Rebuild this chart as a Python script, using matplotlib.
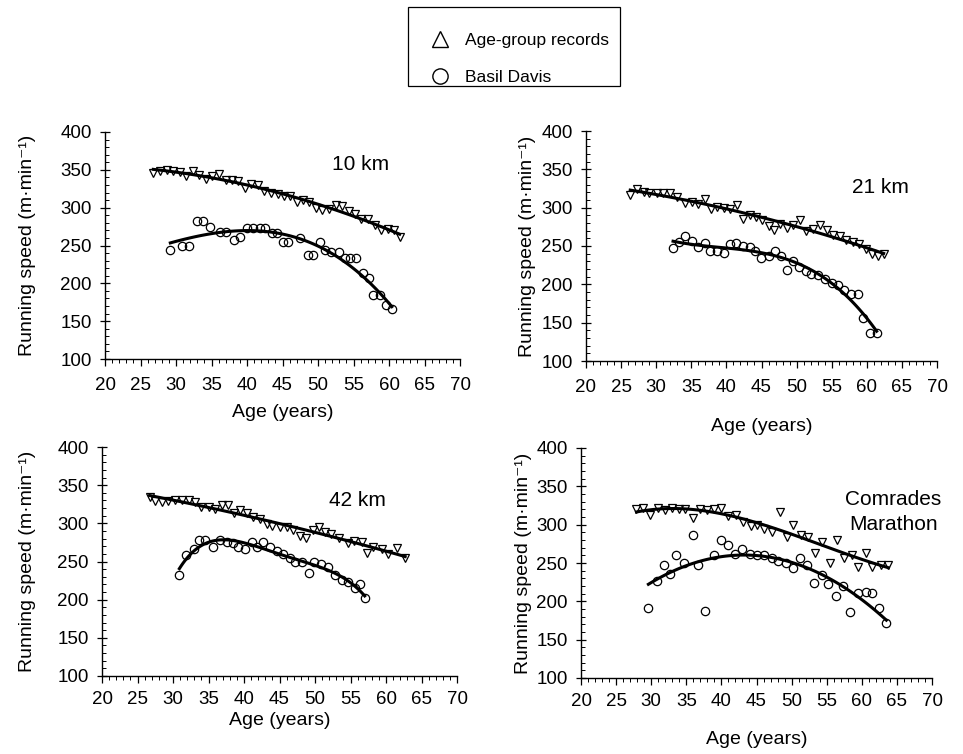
import numpy as np
import matplotlib
matplotlib.use("Agg")
import matplotlib.pyplot as plt
from matplotlib.lines import Line2D
from matplotlib.patches import Rectangle
from matplotlib.ticker import MultipleLocator

plt.rcParams['font.family'] = ['Liberation Sans', 'DejaVu Sans']

# ---------------- data ----------------
# 10 km
rec10_age = [26.8, 27.7, 28.7, 29.6, 30.5, 31.4, 32.4, 33.3, 34.2, 35.1, 36.0, 37.0, 37.9, 38.8,
             39.7, 40.6, 41.5, 42.4, 43.4, 44.3, 45.2, 46.1, 47.0, 47.9, 48.8, 49.7, 50.6, 51.6,
             52.5, 53.4, 54.3, 55.2, 56.1, 57.0, 58.0, 58.9, 59.8, 60.7, 61.5]
rec10_spd = [346, 349, 350, 348, 347, 342, 348, 343, 338, 342, 344, 337, 336, 335,
             326, 331, 330, 322, 319, 318, 316, 315, 307, 310, 308, 300, 297, 298,
             303, 302, 295, 291, 285, 285, 277, 271, 272, 270, 261]
bd10_age = [29.2, 30.8, 31.9, 32.9, 33.8, 34.8, 36.2, 37.1, 38.1, 39.0, 40.0, 40.9, 41.8, 42.5,
            43.5, 44.2, 45.1, 45.8, 47.5, 48.6, 49.3, 50.3, 51.0, 51.9, 52.9, 53.8, 54.5, 55.4,
            56.4, 57.2, 57.8, 58.7, 59.6, 60.4]
bd10_spd = [244, 250, 250, 282, 282, 274, 268, 268, 257, 261, 273, 273, 273, 273,
            267, 267, 255, 255, 260, 238, 238, 255, 244, 242, 242, 233, 233, 233,
            214, 207, 184, 184, 171, 166]

# 21 km
rec21_age = [26.3, 27.2, 28.2, 29.0, 30.1, 31.0, 31.9, 33.0, 34.1, 35.1, 36.0, 36.9, 37.8, 38.6,
             39.6, 40.5, 41.5, 42.3, 43.3, 44.2, 45.0, 46.0, 46.8, 47.7, 48.7, 49.5, 50.5, 51.4,
             52.4, 53.3, 54.3, 55.2, 56.2, 57.1, 58.1, 58.9, 59.9, 60.7, 61.6, 62.4]
rec21_spd = [317, 324, 320, 319, 319, 319, 319, 314, 306, 308, 305, 311, 298, 301,
             300, 298, 303, 285, 291, 288, 284, 276, 271, 279, 274, 278, 284, 269,
             272, 278, 271, 265, 263, 258, 255, 252, 246, 239, 237, 239]
bd21_age = [32.4, 33.2, 34.1, 35.1, 35.9, 36.9, 37.7, 38.6, 39.6, 40.5, 41.4, 42.3, 43.3, 44.1,
            44.9, 46.0, 46.9, 47.8, 48.6, 49.5, 50.4, 51.3, 52.1, 53.1, 54.0, 55.0, 55.9, 56.8,
            57.8, 58.8, 59.5, 60.4, 61.4]
bd21_spd = [247, 255, 263, 257, 249, 254, 244, 243, 241, 252, 254, 250, 249, 244,
            234, 237, 244, 237, 219, 230, 223, 218, 214, 212, 207, 202, 199, 193,
            188, 188, 156, 136, 136]

# 42 km
rec42_age = [26.7, 27.5, 28.4, 29.3, 30.3, 31.2, 32.2, 33.1, 34.0, 35.0, 35.9, 36.9, 37.7, 38.6,
             39.4, 40.4, 41.3, 42.3, 43.2, 44.0, 45.0, 46.0, 46.9, 47.9, 48.8, 49.7, 50.6, 51.4,
             52.3, 53.4, 54.7, 55.5, 56.6, 57.3, 58.2, 59.4, 60.3, 61.5, 62.7]
rec42_spd = [335, 329, 328, 329, 331, 331, 331, 328, 322, 322, 319, 324, 324, 313,
             318, 314, 308, 306, 299, 296, 295, 295, 291, 283, 281, 291, 295, 288,
             286, 281, 274, 277, 276, 261, 269, 267, 260, 268, 255]
bd42_age = [30.9, 31.9, 32.9, 33.6, 34.5, 35.6, 36.6, 37.6, 38.4, 39.2, 40.1, 41.1, 41.8, 42.7,
            43.7, 44.6, 45.5, 46.5, 47.2, 48.1, 49.1, 49.8, 50.9, 51.9, 52.8, 53.8, 54.7, 55.6,
            56.3, 57.0]
bd42_spd = [232, 258, 267, 278, 278, 269, 278, 276, 274, 269, 267, 276, 269, 276,
            269, 264, 260, 255, 250, 250, 235, 250, 247, 243, 232, 226, 223, 215,
            220, 202]

# Comrades Marathon
recCM_age = [27.9, 28.9, 29.9, 30.9, 32.0, 32.9, 33.9, 34.8, 35.9, 36.9, 37.9, 38.9, 39.9, 41.0,
             42.1, 43.1, 44.2, 45.1, 46.1, 47.2, 48.3, 49.3, 50.2, 51.3, 52.4, 53.3, 54.4, 55.4,
             56.4, 57.5, 58.6, 59.5, 60.6, 61.5, 62.7, 63.8]
recCM_spd = [320, 322, 313, 322, 319, 322, 320, 320, 309, 320, 319, 320, 322, 311,
             313, 304, 298, 300, 294, 291, 317, 284, 299, 287, 284, 263, 278, 250,
             280, 257, 261, 245, 263, 245, 248, 248]
bdCM_age = [29.6, 30.8, 31.8, 32.7, 33.6, 34.7, 35.9, 36.7, 37.7, 38.9, 39.9, 41.0, 41.9, 43.0,
            44.1, 45.0, 46.1, 47.2, 48.1, 49.2, 50.2, 51.2, 52.2, 53.2, 54.3, 55.2, 56.3, 57.3,
            58.3, 59.5, 60.6, 61.5, 62.5, 63.5]
bdCM_spd = [191, 226, 248, 236, 261, 250, 286, 248, 188, 260, 280, 274, 262, 268,
            262, 261, 260, 257, 252, 250, 244, 257, 248, 224, 235, 223, 207, 220,
            186, 211, 212, 211, 191, 172]

panel_titles = ["10 km", "21 km", "42 km", "Comrades\nMarathon"]
legend_labels = ["Age-group records", "Basil Davis"]
x_ticks = [20, 25, 30, 35, 40, 45, 50, 55, 60, 65, 70]
y_ticks = [100, 150, 200, 250, 300, 350, 400]

# ---------------- figure ----------------
W, H = 963, 754
fig = plt.figure(figsize=(W / 100, H / 100), dpi=100)
fig.patch.set_facecolor('white')


def add_axes_px(left, right, top, bottom):
    return fig.add_axes([left / W, 1 - bottom / H, (right - left) / W, (bottom - top) / H])


panels = [
    dict(box=(105, 460, 132, 359), rec=(rec10_age, rec10_spd), bd=(bd10_age, bd10_spd),
         rec_deg=2, bd_deg=3, title=panel_titles[0], tpos=(56, 357), ylab=-0.194,
         xpad=7, tpad=8),
    dict(box=(586, 937, 131, 361), rec=(rec21_age, rec21_spd), bd=(bd21_age, bd21_spd),
         rec_deg=2, bd_deg=3, title=panel_titles[1], tpos=(62, 326), ylab=-0.142,
         xpad=16, tpad=8),
    dict(box=(102, 457, 447, 676), rec=(rec42_age, rec42_spd), bd=(bd42_age, bd42_spd),
         rec_deg=2, bd_deg=4, title=panel_titles[2], tpos=(56, 330), ylab=-0.186,
         xpad=3, tpad=6),
    dict(box=(581, 932, 448, 678), rec=(recCM_age, recCM_spd), bd=(bdCM_age, bdCM_spd),
         rec_deg=3, bd_deg=2, title=panel_titles[3], tpos=(64.5, 317), ylab=-0.14,
         xpad=15, tpad=6),
]

for p in panels:
    ax = add_axes_px(*p['box'])
    ra, rs = np.array(p['rec'][0]), np.array(p['rec'][1])
    ba, bs = np.array(p['bd'][0]), np.array(p['bd'][1])

    # regression curves
    xr = np.linspace(ra.min(), ra.max(), 100)
    ax.plot(xr, np.polyval(np.polyfit(ra, rs, p['rec_deg']), xr), color='black', lw=2.2, zorder=3)
    xb = np.linspace(ba.min(), ba.max(), 100)
    ax.plot(xb, np.polyval(np.polyfit(ba, bs, p['bd_deg']), xb), color='black', lw=2.2, zorder=3)

    ax.plot(ra, rs, ls='none', marker='v', ms=6, mfc='none', mec='black', mew=0.9, zorder=4)
    ax.plot(ba, bs, ls='none', marker='o', ms=6, mfc='none', mec='black', mew=0.9, zorder=4)

    ax.set_xlim(20, 70)
    ax.set_ylim(100, 400)
    ax.set_xticks(x_ticks)
    ax.set_yticks(y_ticks)
    ax.xaxis.set_minor_locator(MultipleLocator(1))
    ax.yaxis.set_minor_locator(MultipleLocator(10))
    for s in ['top', 'right']:
        ax.spines[s].set_visible(False)
    for s in ['left', 'bottom']:
        ax.spines[s].set_linewidth(1.0)
    ax.tick_params(axis='x', which='major', direction='out', length=5, width=0.9,
                   labelsize=13.5, pad=p['tpad'])
    ax.tick_params(axis='x', which='minor', direction='out', length=3, width=0.7)
    ax.tick_params(axis='y', which='major', direction='inout', length=7, width=0.9,
                   labelsize=13.5, pad=6)
    ax.tick_params(axis='y', which='minor', direction='in', length=3, width=0.7)

    ax.set_xlabel("Age (years)", fontsize=14, labelpad=p['xpad'])
    ax.set_ylabel("Running speed (m·min⁻¹)", fontsize=14)
    ax.yaxis.set_label_coords(p['ylab'], 0.5)

    ax.text(p['tpos'][0], p['tpos'][1], p['title'], fontsize=15, ha='center', va='center',
            linespacing=1.4)

# legend
handles = [Line2D([], [], ls='none', marker='^', ms=11, mfc='none', mec='black', mew=1.0),
           Line2D([], [], ls='none', marker='o', ms=11, mfc='none', mec='black', mew=1.0)]
fig.legend(handles, legend_labels, loc='center left', bbox_to_anchor=(0.4477, 1 - 59 / H),
           frameon=False, fontsize=12.5, handlelength=1.0, handletextpad=0.95,
           labelspacing=1.3, borderpad=0, borderaxespad=0)
fig.add_artist(Rectangle((408 / W, 1 - 86 / H), (620 - 408) / W, (86 - 7) / H,
                         transform=fig.transFigure, fill=False, ec='black', lw=0.9))

fig.savefig("out.png", dpi=100, facecolor='white')
